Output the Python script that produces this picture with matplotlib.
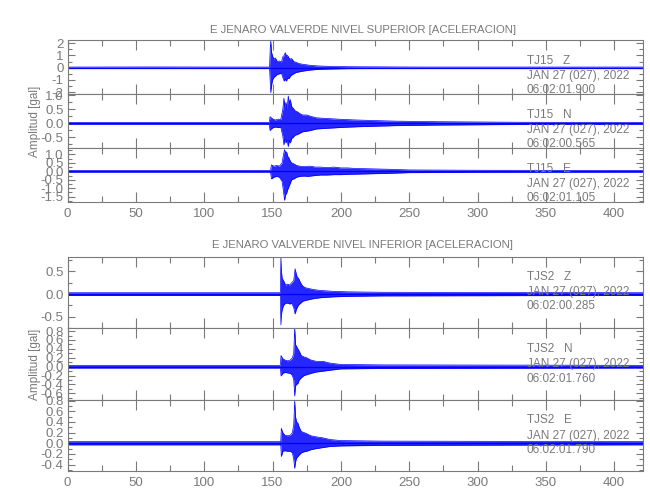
###############################################################################
#IMPORT
import matplotlib
matplotlib.use('Agg')
import matplotlib.pyplot as plt
from matplotlib.ticker import MultipleLocator, FormatStrFormatter

###############################################################################
# DATA  (envelope of each trace, seconds / gal)

# upper level, channel Z
sup_z_t  = [0, 60, 120, 147.8, 148.3, 148.7, 149.2, 150, 151, 152, 153.5, 155, 156.5, 157.5, 158.5, 159.3, 160.2, 161, 162, 163,
            164, 165.5, 167, 169, 171, 174, 177, 182, 188, 195, 205, 220, 260, 421]
sup_z_up = [0.05, 0.06, 0.05, 0.05, 1.6, 2.2, 1.3, 0.95, 0.7, 0.8, 0.5, 0.55, 0.45, 0.9, 1.0, 1.23, 0.95, 1.0, 0.8, 0.7,
            0.75, 0.5, 0.45, 0.35, 0.3, 0.25, 0.2, 0.15, 0.12, 0.1, 0.08, 0.07, 0.05, 0.05]
sup_z_lo = [-0.05, -0.06, -0.05, -0.05, -1.2, -2.05, -1.5, -1.0, -0.8, -0.7, -0.55, -0.5, -0.45, -0.8, -1.1, -0.95, -1.1, -0.85, -0.9, -0.7,
            -0.6, -0.5, -0.4, -0.35, -0.3, -0.25, -0.2, -0.15, -0.12, -0.1, -0.08, -0.07, -0.05, -0.05]

# upper level, channel N
sup_n_t  = [0, 100, 147.5, 148.2, 149, 150.5, 152, 154, 156, 157.5, 158.3, 159, 159.8, 160.6, 161.5, 162.3, 163, 164, 165, 166.5,
            168, 170, 172, 175, 178, 182, 188, 195, 202, 212, 225, 240, 270, 300, 330, 421]
sup_n_up = [0.03, 0.03, 0.03, 0.24, 0.2, 0.15, 0.12, 0.15, 0.14, 0.5, 0.9, 0.6, 0.75, 0.5, 0.98, 0.7, 0.85, 0.6, 0.55, 0.45,
            0.42, 0.35, 0.3, 0.3, 0.25, 0.2, 0.18, 0.16, 0.14, 0.12, 0.1, 0.08, 0.06, 0.05, 0.04, 0.03]
sup_n_lo = [-0.03, -0.03, -0.03, -0.26, -0.2, -0.15, -0.13, -0.15, -0.14, -0.45, -0.77, -0.55, -0.7, -0.6, -0.83, -0.6, -0.7, -0.54, -0.5, -0.42,
            -0.4, -0.35, -0.3, -0.28, -0.25, -0.2, -0.18, -0.16, -0.14, -0.12, -0.1, -0.08, -0.06, -0.05, -0.04, -0.03]

# upper level, channel E
sup_e_t  = [0, 100, 148.5, 149.2, 151, 153, 155, 157, 158, 158.8, 159.5, 160.3, 161, 162, 163, 164, 165.5, 167.5, 170, 173,
            176, 178, 181, 185, 190, 195, 200, 205, 210, 220, 235, 250, 300, 421]
sup_e_up = [0.05, 0.05, 0.05, 0.38, 0.3, 0.35, 0.3, 0.5, 1.0, 1.28, 1.1, 1.15, 0.9, 0.8, 0.6, 0.5, 0.45, 0.35, 0.3, 0.28,
            0.3, 0.3, 0.25, 0.25, 0.22, 0.25, 0.2, 0.2, 0.17, 0.15, 0.12, 0.08, 0.06, 0.05]
sup_e_lo = [-0.05, -0.05, -0.05, -0.45, -0.35, -0.3, -0.35, -0.6, -1.2, -1.72, -1.4, -1.3, -1.1, -0.9, -0.7, -0.5, -0.45, -0.35, -0.3, -0.28,
            -0.3, -0.28, -0.25, -0.22, -0.22, -0.2, -0.2, -0.18, -0.17, -0.15, -0.12, -0.08, -0.06, -0.05]

# lower level, channel Z
inf_z_t  = [0, 100, 155.7, 156.1, 156.5, 157, 158, 159.5, 161, 162.5, 164, 165.5, 166.5, 167.3, 168, 169, 170.5, 172, 174, 177,
            180, 185, 190, 195, 205, 230, 421]
inf_z_up = [0.03, 0.03, 0.03, 0.81, 0.5, 0.35, 0.3, 0.2, 0.22, 0.2, 0.25, 0.3, 0.56, 0.45, 0.38, 0.35, 0.25, 0.18, 0.14, 0.12,
            0.1, 0.08, 0.07, 0.06, 0.05, 0.04, 0.03]
inf_z_lo = [-0.03, -0.03, -0.03, -0.68, -0.45, -0.35, -0.25, -0.2, -0.2, -0.22, -0.2, -0.3, -0.44, -0.35, -0.3, -0.24, -0.2, -0.16, -0.14, -0.12,
            -0.1, -0.08, -0.07, -0.06, -0.05, -0.04, -0.03]

# lower level, channel N
inf_n_t  = [0, 100, 155.7, 156.2, 157.5, 159, 161, 163, 164.5, 165.5, 166.2, 166.8, 167.5, 168.5, 169.5, 171, 173, 175, 178, 182,
            187, 192, 200, 230, 421]
inf_n_up = [0.03, 0.03, 0.03, 0.25, 0.18, 0.15, 0.13, 0.15, 0.2, 0.3, 0.88, 0.5, 0.46, 0.4, 0.35, 0.25, 0.22, 0.2, 0.15, 0.12,
            0.12, 0.08, 0.05, 0.04, 0.03]
inf_n_lo = [-0.03, -0.03, -0.03, -0.21, -0.15, -0.13, -0.14, -0.15, -0.2, -0.3, -0.66, -0.43, -0.4, -0.38, -0.3, -0.25, -0.2, -0.18, -0.15, -0.12,
            -0.1, -0.08, -0.05, -0.04, -0.03]

# lower level, channel E
inf_e_t  = [0, 100, 156, 156.4, 157.5, 159, 161, 163, 164.5, 165.5, 166.2, 166.8, 167.5, 168.5, 169.5, 171, 173, 175, 178, 182,
            187, 192, 200, 230, 421]
inf_e_up = [0.03, 0.03, 0.03, 0.28, 0.2, 0.15, 0.14, 0.15, 0.2, 0.35, 0.8, 0.5, 0.4, 0.38, 0.3, 0.22, 0.2, 0.18, 0.14, 0.12,
            0.1, 0.07, 0.05, 0.04, 0.03]
inf_e_lo = [-0.03, -0.03, -0.03, -0.25, -0.15, -0.14, -0.15, -0.15, -0.18, -0.3, -0.47, -0.35, -0.28, -0.25, -0.22, -0.18, -0.16, -0.15, -0.12, -0.1,
            -0.08, -0.06, -0.05, -0.04, -0.03]

titles = ['E JENARO VALVERDE NIVEL SUPERIOR [ACELERACION]',
          'E JENARO VALVERDE NIVEL INFERIOR [ACELERACION]']
stations = ['TJ15   Z', 'TJ15   N', 'TJ15   E', 'TJS2   Z', 'TJS2   N', 'TJS2   E']
dates = ['JAN 27 (027), 2022'] * 6
hours = ['06:02:01.900', '06:02:00.565', '06:02:01.105',
         '06:02:00.285', '06:02:01.760', '06:02:01.790']
xticks = [0, 50, 100, 150, 200, 250, 300, 350, 400]

###############################################################################
GRAY = '#7a7a7a'
plt.rcParams['font.family'] = ['Liberation Sans', 'DejaVu Sans']

fig = plt.figure(figsize=(6.5, 5), dpi=100)

L, W = 0.104, 0.885
# bottom, height, ylim, major, minor, format, text rows
panels = [
    (sup_z_t, sup_z_up, sup_z_lo, 0.812, 0.108, (-2.16, 2.27), 1.0, 0.5, '%d', (0.61, 0.34, 0.08)),
    (sup_n_t, sup_n_up, sup_n_lo, 0.704, 0.108, (-0.88, 1.05), 0.5, 0.25, '%.1f', (0.61, 0.34, 0.08)),
    (sup_e_t, sup_e_up, sup_e_lo, 0.596, 0.108, (-1.82, 1.38), 0.5, 0.25, '%.1f', (0.61, 0.34, 0.08)),
    (inf_z_t, inf_z_up, inf_z_lo, 0.344, 0.142, (-0.75, 0.82), 0.5, 0.25, '%.1f', (0.72, 0.51, 0.31)),
    (inf_n_t, inf_n_up, inf_n_lo, 0.200, 0.144, (-0.75, 0.87), 0.2, 0.1, '%.1f', (0.71, 0.50, 0.29)),
    (inf_e_t, inf_e_up, inf_e_lo, 0.058, 0.142, (-0.52, 0.81), 0.2, 0.1, '%.1f', (0.72, 0.49, 0.30)),
]

for i, p in enumerate(panels):
    t, up, lo, b, h, yl, maj, mnr, fmt, rows = p
    ax = fig.add_axes([L, b, W, h])
    ax.fill_between(t, lo, up, color='#0000ff', alpha=0.85, linewidth=0)
    ax.plot(t, up, color='#0000ff', linewidth=0.5)
    ax.plot(t, lo, color='#0000ff', linewidth=0.5)
    ax.axhline(0, color='#0000ff', linewidth=0.9)
    ax.set_xlim(0, 421)
    ax.set_ylim(yl)
    ax.set_xticks(xticks)
    ax.xaxis.set_minor_locator(MultipleLocator(25))
    ax.yaxis.set_major_locator(MultipleLocator(maj))
    ax.yaxis.set_minor_locator(MultipleLocator(mnr))
    ax.yaxis.set_major_formatter(FormatStrFormatter(fmt))
    ax.tick_params(which='both', direction='in', top=True, right=True,
                   colors=GRAY, labelcolor=GRAY, labelsize=9.5, width=0.8)
    ax.tick_params(which='major', length=7)
    ax.tick_params(which='minor', length=4)
    ax.tick_params(axis='y', which='major', length=5, pad=3)
    ax.tick_params(axis='y', which='minor', length=3)
    for s in ax.spines.values():
        s.set_color(GRAY)
        s.set_linewidth(0.8)
    if i in (2, 5):
        ax.tick_params(axis='x', labelbottom=True, pad=4)
    else:
        ax.tick_params(axis='x', labelbottom=False)
    for txt, yy in zip([stations[i], dates[i], hours[i]], rows):
        ax.text(0.798, yy, txt, transform=ax.transAxes, color=GRAY,
                fontsize=8.5, va='center', ha='left')

fig.text(0.558, 0.94, titles[0], color=GRAY, fontsize=8.2, ha='center', va='center')
fig.text(0.558, 0.51, titles[1], color=GRAY, fontsize=8.2, ha='center', va='center')
fig.text(0.054, 0.758, 'Amplitud [gal]', color=GRAY, fontsize=8.5, rotation=90, ha='center', va='center')
fig.text(0.054, 0.272, 'Amplitud [gal]', color=GRAY, fontsize=8.5, rotation=90, ha='center', va='center')

fig.savefig('out.png', dpi=100)
